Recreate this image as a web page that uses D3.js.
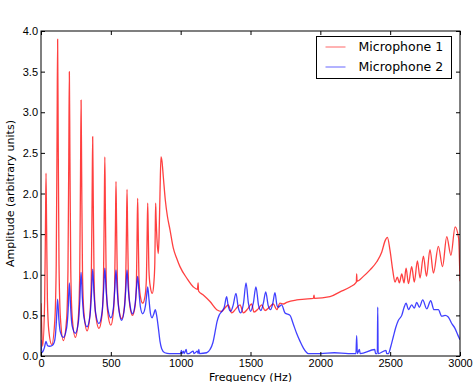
<!DOCTYPE html>
<html>
<head>
<meta charset="utf-8">
<script src="https://cdn.jsdelivr.net/npm/d3@7"></script>
<style>
  body { margin: 0; background: #fff; }
  svg { display: block; font-family: "DejaVu Sans", sans-serif; }
  .tick text { font-size: 11px; fill: #000; }
</style>
</head>
<body>
<svg width="475" height="382"></svg>
<script>
// [Hz, amplitude]
const mic1 = [
  [0, 0.65], [6, 0.3], [12, 0.12], [26, 0.67], [32, 1.59], [36, 2.25], [40, 1.6], [46, 0.68], [56, 0.31], [77, 0.14],
  [99, 0.44], [109, 1.12], [115, 2.73], [119, 3.9], [123, 2.74], [129, 1.13], [139, 0.47], [160, 0.19],
  [183, 0.45], [193, 1.05], [199, 2.47], [203, 3.5], [207, 2.49], [213, 1.08], [223, 0.49], [246, 0.23],
  [267, 0.46], [277, 0.99], [283, 2.24], [287, 3.15], [291, 2.27], [297, 1.05], [307, 0.54], [330, 0.31],
  [350, 0.5], [360, 0.93], [366, 1.96], [370, 2.7], [374, 1.97], [380, 0.95], [390, 0.53], [415, 0.34],
  [437, 0.51], [447, 0.89], [453, 1.8], [457, 2.45], [461, 1.81], [467, 0.92], [477, 0.55], [500, 0.38],
  [517, 0.52], [527, 0.84], [533, 1.6], [537, 2.15], [541, 1.63], [547, 0.9], [557, 0.59], [578, 0.46],
  [596, 0.59], [606, 0.87], [612, 1.56], [616, 2.05], [620, 1.57], [626, 0.9], [636, 0.62], [655, 0.5],
  [674, 0.62], [683, 0.88], [688, 1.49], [692, 1.94], [696, 1.54], [701, 0.98], [710, 0.75], [728, 0.65],
  [746, 0.75], [755, 0.97], [760, 1.5], [764, 1.88], [768, 1.53], [773, 1.05], [782, 0.86], [797, 0.77],
  [808, 0.9], [815, 1.15], [818, 1.55], [821, 1.88], [824, 1.7], [830, 1.45], [840, 1.26],
  [845, 1.45], [852, 2.0], [859, 2.45], [866, 2.4], [876, 2.2], [890, 1.92], [905, 1.72], [924, 1.55],
  [947, 1.33], [972, 1.2], [995, 1.1], [1043, 0.96], [1091, 0.85], [1120, 0.82], [1125, 0.9], [1128, 0.8],
  [1162, 0.75], [1210, 0.67], [1258, 0.57], [1294, 0.55], [1317, 0.59], [1341, 0.63], [1365, 0.53],
  [1395, 0.58], [1425, 0.63], [1449, 0.53], [1480, 0.58], [1508, 0.64], [1525, 0.54], [1555, 0.58],
  [1580, 0.63], [1604, 0.56], [1635, 0.6], [1663, 0.64], [1688, 0.57], [1711, 0.65], [1735, 0.64],
  [1759, 0.66], [1831, 0.69], [1890, 0.7], [1950, 0.71], [1955, 0.75], [1958, 0.71], [2069, 0.73],
  [2141, 0.79], [2213, 0.85], [2258, 0.91], [2260, 1.01], [2263, 0.92], [2308, 0.98], [2356, 1.06],
  [2404, 1.16], [2440, 1.28], [2464, 1.42], [2480, 1.46], [2499, 1.3], [2518, 1.06], [2535, 0.91],
  [2551, 0.97], [2566, 0.9], [2583, 1.01], [2599, 0.9], [2614, 1.08], [2631, 0.89], [2654, 1.1],
  [2673, 0.91], [2695, 1.17], [2714, 0.96], [2738, 1.23], [2760, 0.98], [2785, 1.31], [2810, 1.02],
  [2845, 1.35], [2875, 1.1], [2905, 1.47], [2935, 1.24], [2965, 1.59], [2990, 1.45], [3000, 0.92]
];

const mic2 = [
  [0, 0.2], [6, 0.04], [12, 0.05], [24, 0.1], [36, 0.18], [46, 0.13], [60, 0.12], [80, 0.13], [95, 0.17],
  [103, 0.25], [110, 0.42], [119, 0.7], [128, 0.45], [138, 0.3], [160, 0.23],
  [183, 0.34], [194, 0.55], [203, 0.9], [212, 0.6], [222, 0.38], [246, 0.28],
  [268, 0.42], [278, 0.68], [287, 1.03], [296, 0.72], [307, 0.48], [330, 0.36],
  [351, 0.5], [361, 0.75], [370, 1.07], [379, 0.78], [392, 0.52], [415, 0.4],
  [438, 0.55], [448, 0.8], [457, 1.08], [466, 0.82], [479, 0.58], [500, 0.47],
  [519, 0.6], [528, 0.82], [537, 1.06], [546, 0.8], [559, 0.55], [578, 0.44],
  [598, 0.6], [607, 0.82], [616, 1.06], [625, 0.82], [638, 0.62], [655, 0.52],
  [674, 0.64], [683, 0.82], [692, 0.98], [701, 0.8], [712, 0.6], [728, 0.52],
  [748, 0.62], [756, 0.74], [764, 0.85], [773, 0.7], [784, 0.52], [795, 0.47],
  [808, 0.52], [818, 0.57], [828, 0.5], [840, 0.35], [852, 0.18], [864, 0.09], [886, 0.04],
  [920, 0.03], [1000, 0.03], [1005, 0.07], [1010, 0.03], [1020, 0.06], [1025, 0.03], [1040, 0.08],
  [1045, 0.03], [1060, 0.03], [1090, 0.06], [1095, 0.03], [1120, 0.06], [1125, 0.03], [1130, 0.08],
  [1135, 0.03], [1186, 0.04], [1210, 0.08], [1230, 0.16], [1250, 0.33], [1260, 0.42], [1275, 0.5],
  [1295, 0.55], [1312, 0.6], [1329, 0.73], [1340, 0.62], [1358, 0.55], [1375, 0.62], [1396, 0.77],
  [1412, 0.6], [1430, 0.53], [1450, 0.65], [1468, 0.9], [1485, 0.65], [1501, 0.55], [1520, 0.65],
  [1539, 0.85], [1558, 0.62], [1575, 0.56], [1592, 0.65], [1609, 0.79], [1627, 0.62], [1644, 0.57],
  [1660, 0.65], [1675, 0.78], [1690, 0.62], [1699, 0.6], [1723, 0.63], [1747, 0.53], [1783, 0.5],
  [1805, 0.4], [1830, 0.28], [1855, 0.18], [1878, 0.1], [1914, 0.03], [2000, 0.03], [2100, 0.04],
  [2200, 0.03], [2255, 0.03], [2260, 0.25], [2265, 0.03], [2280, 0.08], [2285, 0.03], [2390, 0.08],
  [2395, 0.03], [2408, 0.03], [2411, 0.6], [2414, 0.03], [2470, 0.07], [2475, 0.03], [2487, 0.03],
  [2505, 0.12], [2523, 0.24], [2540, 0.35], [2559, 0.44], [2583, 0.5], [2600, 0.6], [2614, 0.65],
  [2631, 0.57], [2654, 0.63], [2673, 0.59], [2690, 0.66], [2709, 0.6], [2733, 0.69], [2762, 0.58],
  [2790, 0.68], [2814, 0.57], [2845, 0.57], [2869, 0.49], [2893, 0.5], [2916, 0.48], [2941, 0.4],
  [2964, 0.34], [2984, 0.26], [3000, 0.2]
];

const series = [
  { name: 'Microphone 1', color: '#f00', values: mic1 },
  { name: 'Microphone 2', color: '#00f', values: mic2 }
];

const xTicks = [0, 500, 1000, 1500, 2000, 2500, 3000];
const yTicks = [0, 0.5, 1, 1.5, 2, 2.5, 3, 3.5, 4];

const svg = d3.select('svg');
const margin = { left: 41, right: 15, top: 31, bottom: 26 };
const width = 475 - margin.left - margin.right;
const height = 382 - margin.top - margin.bottom;

const x = d3.scaleLinear().domain([0, 3000]).range([0, width]);
const y = d3.scaleLinear().domain([0, 4]).range([height, 0]);

const g = svg.append('g').attr('transform', `translate(${margin.left},${margin.top})`);

g.append('clipPath').attr('id', 'clip')
  .append('rect').attr('width', width).attr('height', height);

const line = d3.line()
  .x(d => x(d[0]))
  .y(d => y(d[1]))
  .curve(d3.curveMonotoneX);

g.append('g').attr('clip-path', 'url(#clip)')
  .selectAll('path').data(series)
  .enter().append('path')
  .attr('fill', 'none')
  .attr('stroke', d => d.color)
  .attr('stroke-opacity', 0.75)
  .attr('stroke-width', 1.3)
  .attr('stroke-linejoin', 'round')
  .attr('d', d => line(d.values));

// axes, matplotlib style: inward ticks on all four sides
const fmtY = d3.format('.1f');
g.append('g').attr('transform', `translate(0,${height})`)
  .call(d3.axisBottom(x).tickValues(xTicks).tickFormat(d3.format('d'))
    .tickSizeInner(-4).tickSizeOuter(0).tickPadding(3))
  .call(a => a.select('.domain').remove());
g.append('g').call(d3.axisTop(x).tickValues(xTicks).tickSizeInner(-4).tickSizeOuter(0).tickFormat(''))
  .call(a => a.select('.domain').remove());
g.append('g')
  .call(d3.axisLeft(y).tickValues(yTicks).tickFormat(fmtY).tickSizeInner(-4).tickSizeOuter(0).tickPadding(3))
  .call(a => a.select('.domain').remove());
g.append('g').attr('transform', `translate(${width},0)`)
  .call(d3.axisRight(y).tickValues(yTicks).tickSizeInner(-4).tickSizeOuter(0).tickFormat(''))
  .call(a => a.select('.domain').remove());

g.append('rect')
  .attr('width', width).attr('height', height)
  .attr('fill', 'none').attr('stroke', '#000').attr('stroke-width', 1);

svg.append('text')
  .attr('x', margin.left + width / 2).attr('y', 381)
  .attr('text-anchor', 'middle').attr('font-size', 11)
  .text('Frequency (Hz)');

svg.append('text')
  .attr('transform', `translate(14,${margin.top + height / 2}) rotate(-90)`)
  .attr('text-anchor', 'middle').attr('font-size', 11)
  .text('Amplitude (arbitrary units)');

// legend
const legend = svg.append('g').attr('transform', 'translate(316.5,36.5)');
legend.append('rect')
  .attr('width', 135).attr('height', 42)
  .attr('fill', '#fff').attr('stroke', '#000').attr('stroke-width', 1);
const items = legend.selectAll('g.item').data(series)
  .enter().append('g').attr('class', 'item')
  .attr('transform', (d, i) => `translate(0,${10.5 + i * 20})`);
items.append('line')
  .attr('x1', 9).attr('x2', 29)
  .attr('stroke', d => d.color).attr('stroke-opacity', 0.6);
items.append('text')
  .attr('x', 42).attr('dy', '0.35em').attr('font-size', 12.5)
  .text(d => d.name);
</script>
</body>
</html>
